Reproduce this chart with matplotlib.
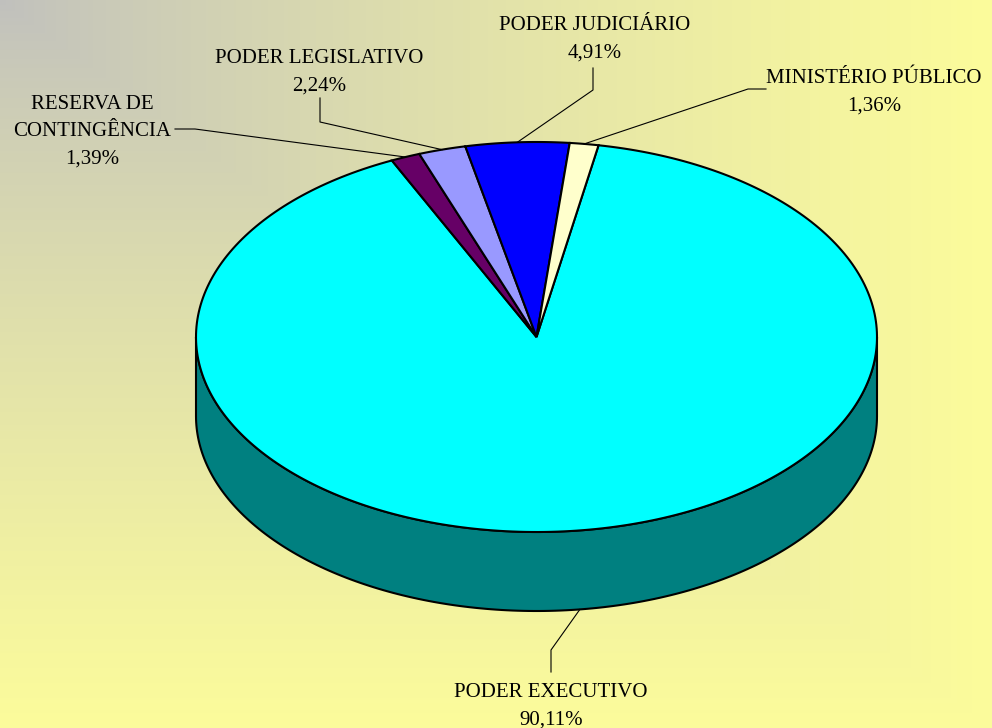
import numpy as np
import matplotlib.pyplot as plt
from matplotlib.patches import Polygon

# data
names = ['PODER EXECUTIVO', 'RESERVA DE\nCONTINGÊNCIA', 'PODER LEGISLATIVO',
         'PODER JUDICIÁRIO', 'MINISTÉRIO PÚBLICO']
shares = [90.11, 1.39, 2.24, 4.91, 1.36]
top_colors = ['#00ffff', '#660066', '#9999ff', '#0000ff', '#ffffcc']
side_colors = ['#008080', '#330033', '#4d4d80', '#000080', '#808066']

# layout (pixels, y down)
W, H = 992, 728
cx, cy, rx, ry, depth = 536.5, 337.0, 340.5, 195.0, 79.0
start = 10.5          # degrees clockwise from 12 o'clock
line_gap = 27.5
label_xy = [(551, 697), (92, 109), (319, 63), (595, 30), (874, 83)]  # first baseline
elbows = [[(551, 650), (551, 672)],
          [(195, 129), (175, 129)],
          [(320, 122), (320, 98)],
          [(593, 90), (593, 68)],
          [(748, 89), (766, 89)]]

plt.rcParams['font.family'] = ['Liberation Serif', 'DejaVu Serif']

fig = plt.figure(figsize=(W / 100, H / 100), dpi=100)
ax = fig.add_axes([0, 0, 1, 1])
ax.set_xlim(0, W)
ax.set_ylim(H, 0)
ax.axis('off')

# gradient background from top-left corner
yy, xx = np.mgrid[0:H, 0:W]
t = np.maximum(xx / W, yy / H)[..., None] ** 0.8
c0 = np.array([192, 192, 190]) / 255
c1 = np.array([252, 252, 155]) / 255
ax.imshow(c0 + (c1 - c0) * t, extent=[0, W, H, 0], aspect='auto', zorder=0)


def pt(theta, dz=0.0):
    r = np.radians(theta)
    return cx + rx * np.sin(r), cy - ry * np.cos(r) + dz


bounds = start + 360 * np.concatenate([[0], np.cumsum(shares)]) / sum(shares)

# side walls (front half only)
for i in range(len(shares)):
    a0, a1 = bounds[i], bounds[i + 1]
    for lo, hi in [(90, 270), (450, 630)]:
        s, e = max(a0, lo), min(a1, hi)
        if e <= s:
            continue
        th = np.linspace(s, e, 200)
        x, y = pt(th)
        xs = np.concatenate([x, x[::-1]])
        ys = np.concatenate([y, (y + depth)[::-1]])
        ax.add_patch(Polygon(np.column_stack([xs, ys]), closed=True,
                             facecolor=side_colors[i], edgecolor='black',
                             lw=1.5, zorder=2))

# top wedges
for i in range(len(shares)):
    th = np.linspace(bounds[i], bounds[i + 1], 300)
    x, y = pt(th)
    xs = np.concatenate([[cx], x])
    ys = np.concatenate([[cy], y])
    ax.add_patch(Polygon(np.column_stack([xs, ys]), closed=True,
                         facecolor=top_colors[i], edgecolor='black',
                         lw=1.5, zorder=3))

# labels and leader lines
for i, name in enumerate(names):
    mid = (bounds[i] + bounds[i + 1]) / 2
    front = 90 < (mid % 360) < 270
    ax0, ay0 = pt(mid, depth if front else 0)
    path = [(ax0, ay0)] + elbows[i]
    ax.plot([p[0] for p in path], [p[1] for p in path], color='black',
            lw=0.8, zorder=4)
    lines = name.split('\n') + [f'{shares[i]:.2f}%'.replace('.', ',')]
    lx, ly = label_xy[i]
    for k, s in enumerate(lines):
        ax.text(lx, ly + k * line_gap, s, ha='center', va='baseline',
                fontsize=15, color='black', zorder=5)

fig.savefig('out.png', dpi=100)
